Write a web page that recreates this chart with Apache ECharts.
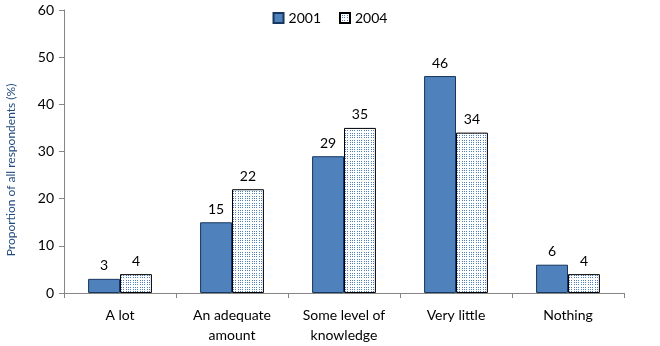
<!DOCTYPE html>
<html><head><meta charset="utf-8">
<script src="https://cdn.jsdelivr.net/npm/echarts@6/dist/echarts.min.js"></script>
<style>html,body{margin:0;padding:0;background:#fff}#c{width:660px;height:346px}</style>
</head><body><div id="c"></div>
<script>
var categories = ['A lot', 'An adequate\namount', 'Some level of\nknowledge', 'Very little', 'Nothing'];
var values2001 = [3, 15, 29, 46, 6];
var values2004 = [4, 22, 35, 34, 4];
var seriesNames = ['2001', '2004'];
var yTicks = [0, 10, 20, 30, 40, 50, 60];
var yTitle = 'Proportion of all respondents (%)';

var pc = document.createElement('canvas');
pc.width = 7; pc.height = 7;
var ctx = pc.getContext('2d');
ctx.fillStyle = '#ffffff'; ctx.fillRect(0, 0, 7, 7);
ctx.fillStyle = '#4F81BD';
[0, 2, 4].forEach(function (px) { [0, 2, 4].forEach(function (py) { ctx.fillRect(px, py, 1, 1); }); });
var pattern = { image: pc, repeat: 'repeat' };

var font = 'Lato, "Open Sans", sans-serif';
var chart = echarts.init(document.getElementById('c'));
chart.setOption({
  animation: false,
  textStyle: { fontFamily: font },
  legend: {
    top: 6, left: 'center', itemWidth: 10, itemHeight: 10, itemGap: 18,
    textStyle: { fontSize: 14, color: '#000', fontFamily: font },
    data: [
      { name: seriesNames[0], icon: 'rect' },
      { name: seriesNames[1], icon: 'rect' }
    ]
  },
  graphic: [{
    type: 'text', x: 11, y: 170, rotation: Math.PI / 2,
    style: { text: yTitle, fill: '#1F497D', font: '12px ' + font, textAlign: 'center', textVerticalAlign: 'middle' }
  }],
  grid: { left: 64, right: 36, top: 10, bottom: 53 },
  xAxis: {
    type: 'category', data: categories,
    axisLine: { lineStyle: { color: '#868686' } },
    axisTick: { show: true, alignWithLabel: false, length: 5, lineStyle: { color: '#868686' } },
    axisLabel: { color: '#000', fontSize: 14, lineHeight: 20, margin: 12, fontFamily: font, interval: 0 }
  },
  yAxis: {
    type: 'value', min: yTicks[0], max: yTicks[yTicks.length - 1], interval: 10,
    axisLine: { show: true, lineStyle: { color: '#868686' } },
    axisTick: { show: true, length: 5, lineStyle: { color: '#868686' } },
    splitLine: { show: false },
    axisLabel: { color: '#000', fontSize: 14, margin: 10, fontFamily: font }
  },
  series: [
    {
      name: seriesNames[0], type: 'bar', data: values2001,
      barGap: '0%', barCategoryGap: '43%',
      itemStyle: { color: '#4F81BD', borderColor: '#17375E', borderWidth: 1 },
      label: { show: true, position: 'top', color: '#000', fontSize: 14, distance: 6, fontFamily: font }
    },
    {
      name: seriesNames[1], type: 'bar', data: values2004,
      barGap: '0%', barCategoryGap: '43%',
      itemStyle: { color: pattern, borderColor: '#000', borderWidth: 1 },
      label: { show: true, position: 'top', color: '#000', fontSize: 14, distance: 6, fontFamily: font }
    }
  ]
});
</script></body></html>
